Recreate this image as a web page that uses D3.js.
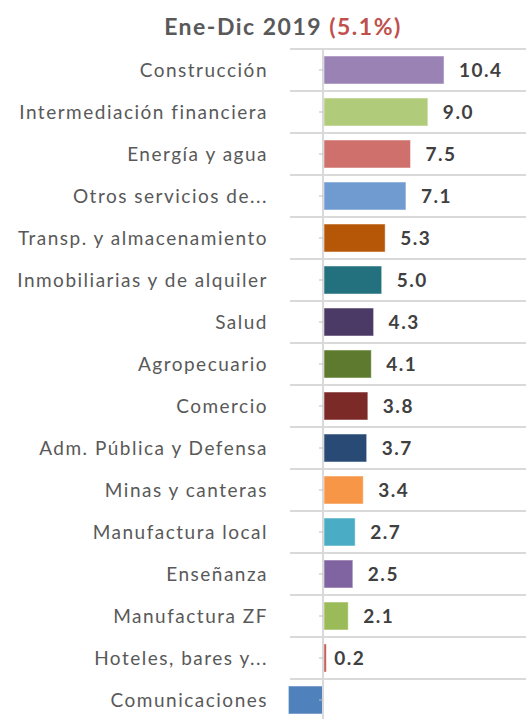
<!DOCTYPE html>
<html><head><meta charset="utf-8">
<script src="https://cdn.jsdelivr.net/npm/d3@7"></script>
<style>body{margin:0;background:#fff;}svg{display:block;}</style>
</head><body>
<svg id="c" width="526" height="719"></svg>
<script>
const categories = ["Construcción","Intermediación financiera","Energía y agua","Otros servicios de...","Transp. y almacenamiento","Inmobiliarias y de alquiler","Salud","Agropecuario","Comercio","Adm. Pública y Defensa","Minas y canteras","Manufactura local","Enseñanza","Manufactura ZF","Hoteles, bares y...","Comunicaciones"];
const values = [10.4, 9.0, 7.5, 7.1, 5.3, 5.0, 4.3, 4.1, 3.8, 3.7, 3.4, 2.7, 2.5, 2.1, 0.2, -3.0];
const colors = ["#9b82b4","#b0cb7a","#d0706d","#6f9bd1","#b65708","#23707f","#4b3a66","#5e7a2e","#7b2a27","#2a4a76","#f79646","#4bacc6","#8064a2","#9bbb59","#c0504d","#4f81bd"];
const titleMain = "Ene-Dic 2019 ";
const titleTotal = "(5.1%)";

const svg = d3.select("#c");
const font = "Lato, 'Open Sans', sans-serif";

const x = d3.scaleLinear().domain([0, 10]).range([323, 438.4]);
const y = d3.scaleBand().domain(categories).range([49, 721]).paddingInner(1/3).paddingOuter(1/6);
const step = y.step();

// title
const t = svg.append("text").attr("x", 283).attr("y", 35).attr("text-anchor", "middle")
  .attr("font-family", font).attr("font-weight", "bold").attr("font-size", 23)
  .attr("letter-spacing", 1.5);
t.append("tspan").attr("fill", "#595959").text(titleMain);
t.append("tspan").attr("fill", "#c0504d").text(titleTotal);

// gridlines at band boundaries
const bounds = d3.range(categories.length + 1).map(i => y.range()[0] + i * step);
svg.append("g").selectAll("line").data(bounds).join("line")
  .attr("x1", 290).attr("x2", 526).attr("y1", d => d).attr("y2", d => d)
  .attr("stroke", "#d9d9d9").attr("stroke-width", 2);

// bars
svg.append("g").selectAll("rect").data(values).join("rect")
  .attr("x", d => Math.min(x(0), x(d)) + (d >= 0 ? 1 : 0))
  .attr("y", (d, i) => y(categories[i]))
  .attr("width", d => Math.abs(x(d) - x(0)))
  .attr("height", y.bandwidth())
  .attr("fill", (d, i) => colors[i])
  .attr("stroke", "#ffffff").attr("stroke-opacity", 0.5).attr("stroke-width", 1);

// zero axis
svg.append("line").attr("x1", x(0)).attr("x2", x(0)).attr("y1", 49).attr("y2", 719)
  .attr("stroke", "#d9d9d9").attr("stroke-width", 2);
// ticks
svg.append("g").selectAll("line").data(categories).join("line")
  .attr("x1", x(0) - 4).attr("x2", x(0)).attr("y1", d => y(d) + y.bandwidth() / 2).attr("y2", d => y(d) + y.bandwidth() / 2)
  .attr("stroke", "#bfbfbf").attr("stroke-width", 1);

// category labels
svg.append("g").selectAll("text").data(categories).join("text")
  .attr("x", 268).attr("y", d => y(d) + y.bandwidth() / 2).attr("dy", "0.35em")
  .attr("text-anchor", "end").attr("font-family", font).attr("font-size", 19)
  .attr("letter-spacing", 1.5)
  .attr("fill", "#595959").text(d => d);

// value labels
svg.append("g").selectAll("text").data(values.map((v, i) => ({v, c: categories[i]})).filter(d => d.v >= 0)).join("text")
  .attr("x", d => x(d.v) + (d.v < 0.5 ? 9 : 16))
  .attr("y", d => y(d.c) + y.bandwidth() / 2).attr("dy", "0.36em")
  .attr("font-family", font).attr("font-weight", "bold").attr("font-size", 19)
  .attr("letter-spacing", 1.5)
  .attr("fill", "#404040").text(d => d3.format(".1f")(d.v));
</script>
</body></html>
